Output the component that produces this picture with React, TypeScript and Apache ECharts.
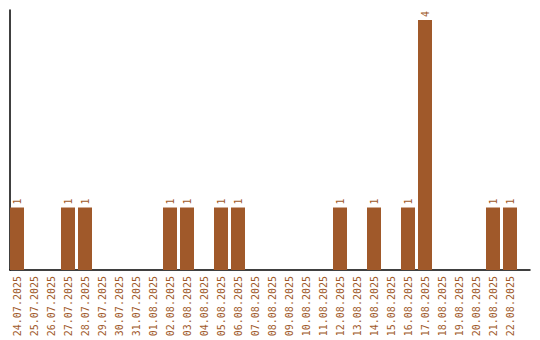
import React, { useEffect, useRef } from "react";
import * as echarts from "echarts";

const categories = [
  "24.07.2025", "25.07.2025", "26.07.2025", "27.07.2025", "28.07.2025",
  "29.07.2025", "30.07.2025", "31.07.2025", "01.08.2025", "02.08.2025",
  "03.08.2025", "04.08.2025", "05.08.2025", "06.08.2025", "07.08.2025",
  "08.08.2025", "09.08.2025", "10.08.2025", "11.08.2025", "12.08.2025",
  "13.08.2025", "14.08.2025", "15.08.2025", "16.08.2025", "17.08.2025",
  "18.08.2025", "19.08.2025", "20.08.2025", "21.08.2025", "22.08.2025",
];
const counts = [
  1, 0, 0, 1, 1, 0, 0, 0, 0, 1,
  1, 0, 1, 1, 0, 0, 0, 0, 0, 1,
  0, 1, 0, 1, 4, 0, 0, 0, 1, 1,
];

const COLOR = "#a0592a";
const FONT = "DejaVu Sans Mono";

export default function App() {
  const ref = useRef<HTMLDivElement>(null);
  useEffect(() => {
    if (!ref.current) return;
    const chart = echarts.init(ref.current, null, { renderer: "svg" });
    chart.setOption({
      animation: false,
      grid: [
        { left: 10, right: 10, top: 10, bottom: 70 },
        { left: 8.5, width: 510, top: 10, bottom: 70 },
      ],
      xAxis: [
        {
          gridIndex: 0,
          type: "category",
          data: categories,
          axisLine: { show: true, lineStyle: { color: "#000", width: 1.5 } },
          axisTick: { show: false },
          axisLabel: { show: false },
          splitLine: { show: false },
        },
        {
          gridIndex: 1,
          type: "category",
          data: categories,
          axisLine: { show: false },
          axisTick: { show: false },
          axisLabel: {
            rotate: 90,
            interval: 0,
            margin: 6,
            color: COLOR,
            fontFamily: FONT,
            fontSize: 10,
          },
          splitLine: { show: false },
        },
      ],
      yAxis: [
        {
          gridIndex: 0,
          type: "value",
          min: 0,
          max: 4.16,
          axisLine: { show: true, lineStyle: { color: "#000", width: 1.5 } },
          axisTick: { show: false },
          axisLabel: { show: false },
          splitLine: { show: false },
        },
        {
          gridIndex: 1,
          type: "value",
          min: 0,
          max: 4.16,
          axisLine: { show: false },
          axisTick: { show: false },
          axisLabel: { show: false },
          splitLine: { show: false },
        },
      ],
      series: [
        {
          type: "bar",
          xAxisIndex: 1,
          yAxisIndex: 1,
          data: counts.map((v) => (v === 0 ? null : v)),
          barWidth: 14,
          itemStyle: { color: COLOR },
          label: {
            show: true,
            position: "top",
            rotate: 90,
            align: "left",
            verticalAlign: "middle",
            distance: 3,
            color: COLOR,
            fontFamily: FONT,
            fontSize: 10,
          },
        },
      ],
    });
    return () => chart.dispose();
  }, []);
  return (
    <div
      ref={ref}
      style={{ position: "absolute", left: 0, top: 0, width: 540, height: 340 }}
    />
  );
}
